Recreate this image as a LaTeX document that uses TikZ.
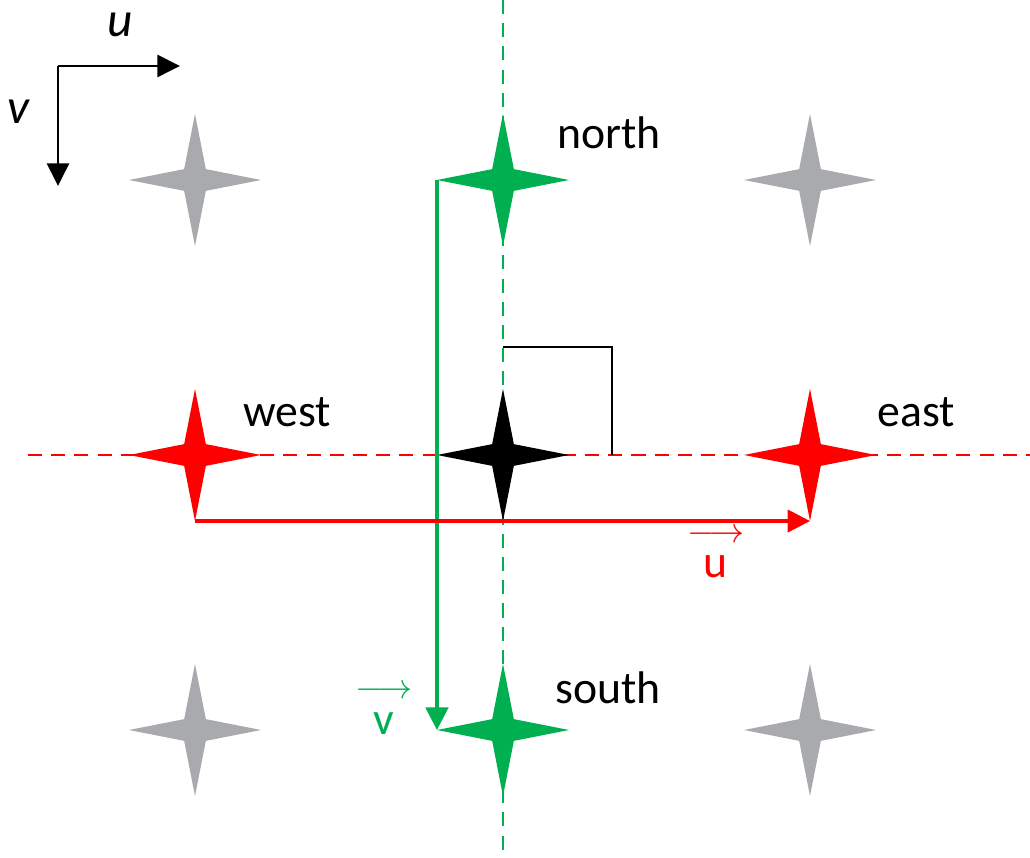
\documentclass[tikz,border=0pt]{standalone}
\usepackage{amsmath}
\usepackage{fontspec}
\setmainfont{Carlito}
\usetikzlibrary{arrows.meta,shapes.geometric}
\definecolor{stargreen}{RGB}{0,176,80}
\definecolor{stargray}{RGB}{168,170,173}
\definecolor{starred}{RGB}{255,0,0}

\begin{document}
\begin{tikzpicture}[x=0.01cm, y=-0.01cm,
  sparkle/.style={star, star points=4, star point ratio=4.3, minimum size=1.32cm, inner sep=0pt, outer sep=0pt, draw=none},
  lbl/.style={font=\fontsize{13}{15}\selectfont},
  veclbl/.style={align=center, inner sep=1pt, font=\fontsize{13}{13}\selectfont},
  axis/.style={-{Triangle[length=6.4pt, width=6.2pt]}, line width=0.8pt, black},
  vecarr/.style={-{Triangle[length=6.4pt, width=6.4pt]}, line width=0.9pt},
  guide/.style={dash pattern=on 4pt off 2.6pt, line width=0.65pt}
]
\useasboundingbox (0,0) rectangle (1030,858);

% dashed guide lines
\coordinate (vtop) at (503,0);
\coordinate (vbot) at (503,858);
\coordinate (hleft) at (28,455);
\coordinate (hright) at (1030,455);
\draw[guide, stargreen] (vtop) -- (vbot);
\draw[guide, starred] (hleft) -- (hright);

% right angle mark
\coordinate (ra1) at (503,347);
\coordinate (ra2) at (612,455);
\draw[line width=0.5pt] (ra1) -| (ra2);

% stars
\node[sparkle, fill=stargray] (nw) at (195,180) {};
\node[sparkle, fill=stargray] (ne) at (810,180) {};
\node[sparkle, fill=stargray] (sw) at (195,730) {};
\node[sparkle, fill=stargray] (se) at (810,730) {};
\node[sparkle, fill=stargreen] (north) at (503,180) {};
\node[sparkle, fill=stargreen] (south) at (503,730) {};
\node[sparkle, fill=starred] (west) at (195,455) {};
\node[sparkle, fill=starred] (east) at (810,455) {};
\node[sparkle, fill=black] (center) at (503,455) {};

% step vectors
\draw[vecarr, stargreen] (north.west) -- (south.west);
\draw[vecarr, starred] (west.south) -- (east.south);

% labels
\node[lbl] (northlbl) at (609,133) {north};
\node[lbl] (southlbl) at (608,688) {south};
\node[lbl] (westlbl) at (287,412) {west};
\node[lbl] (eastlbl) at (916,412) {east};
\node[veclbl, text=starred] (ulbl) at (716,554) {{\fontsize{10}{10}\selectfont$\longrightarrow$}\\[-3pt]u};
\node[veclbl, text=stargreen] (vlbl) at (384,710) {{\fontsize{10}{10}\selectfont$\longrightarrow$}\\[-3pt]v};

% image axes
\coordinate (origin) at (58,66);
\coordinate (uend) at (180,66);
\coordinate (vend) at (58,186);
\draw[axis] (origin) -- (uend);
\draw[axis] (origin) -- (vend);
\node[lbl, font=\fontsize{14}{16}\selectfont\itshape] (ax) at (120,25) {u};
\node[lbl, font=\fontsize{14}{16}\selectfont\itshape] (ay) at (18,112) {v};
\end{tikzpicture}
\end{document}
